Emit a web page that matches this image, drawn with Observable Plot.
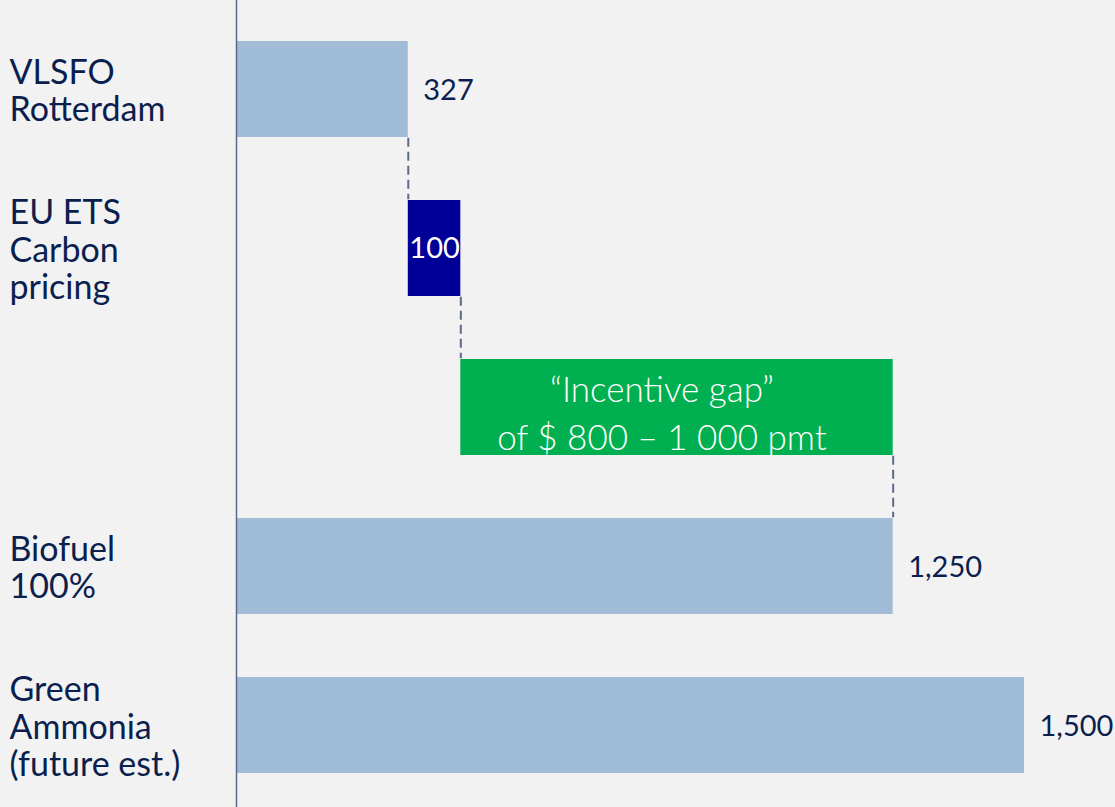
<!DOCTYPE html>
<html>
<head>
<meta charset="utf-8">
<script src="https://cdn.jsdelivr.net/npm/d3@7"></script>
<script src="https://cdn.jsdelivr.net/npm/@observablehq/plot@0.6"></script>
<style>
  html, body { margin: 0; padding: 0; background: #f2f2f2; }
  #chart { width: 1115px; height: 807px; overflow: hidden; }
</style>
</head>
<body>
<div id="chart"></div>
<script>
// ---- data ----
const rows = ["VLSFO", "ETS", "Gap", "Biofuel", "Ammonia"];
const rowLabels = ["VLSFO\nRotterdam", "EU ETS\nCarbon\npricing", "", "Biofuel\n100%", "Green\nAmmonia\n(future est.)"];
const starts = [0, 327, 427, 0, 0];
const ends = [327, 427, 1250, 1250, 1500];
const kinds = ["base", "carbon", "gap", "base", "base"];
const valueLabels = ["327", "100", "“Incentive gap”\nof $ 800 – 1 000 pmt", "1,250", "1,500"];
const connectorFrom = ["VLSFO", "ETS", "Gap"];
const connectorTo = ["ETS", "Gap", "Biofuel"];
const connectorAt = [327, 427, 1250];

// ---- tables built from the arrays ----
const bars = rows.map((r, i) => ({row: r, x1: starts[i], x2: ends[i], kind: kinds[i], label: valueLabels[i], rowLabel: rowLabels[i]}));
const connectors = connectorAt.map((x, i) => ({x, from: connectorFrom[i], to: connectorTo[i]}));

const H = 807, MT = 8, MB = 0, PI = 0.394, PO = 0.2;
const step = (H - MT - MB) / (rows.length - PI + 2 * PO);
const bw = step * (1 - PI);

const ink = "#0b1f4f";
const colors = {base: "#a0bcd6", carbon: "#000099", gap: "#00b050"};

const chart = Plot.plot({
  width: 1115,
  height: H,
  marginLeft: 236,
  marginRight: 91,
  marginTop: MT,
  marginBottom: MB,
  x: {domain: [0, 1500], axis: null},
  y: {domain: rows, axis: null, paddingInner: PI, paddingOuter: PO},
  style: {background: "#f2f2f2", fontFamily: "Lato, 'Open Sans', sans-serif", overflow: "visible"},
  marks: [
    Plot.barX(bars, {y: "row", x1: "x1", x2: "x2", fill: d => colors[d.kind]}),
    Plot.ruleX(connectors, {x: "x", y1: "from", y2: "to", insetTop: bw, insetBottom: bw,
      stroke: "#5f6a8a", strokeWidth: 2, strokeDasharray: "9,5"}),
    Plot.ruleX([0], {stroke: "#5b6a8c", strokeWidth: 1.5, insetTop: -MT}),
    // category labels on the left
    Plot.text(bars.filter(d => d.rowLabel), {y: "row", text: "rowLabel", frameAnchor: "left", textAnchor: "start",
      dx: -227, dy: 1, fontSize: 34, lineHeight: 1.11, fill: ink}),
    // value labels outside the base bars
    Plot.text(bars.filter(d => d.kind === "base"), {y: "row", x: "x2", text: "label", textAnchor: "start",
      dx: 15, dy: 1, fontSize: 29, fill: ink}),
    // label inside the carbon bar
    Plot.text(bars.filter(d => d.kind === "carbon"), {y: "row", x: d => (d.x1 + d.x2) / 2, text: "label",
      fontSize: 29, fill: "white"}),
    // incentive gap text
    Plot.text(bars.filter(d => d.kind === "gap"), {y: "row", x: d => (d.x1 + d.x2) / 2, text: "label",
      dx: -15, dy: 3, fontSize: 35, fontWeight: 300, lineHeight: 1.36, fill: "white"})
  ]
});
document.getElementById("chart").appendChild(chart);
</script>
</body>
</html>
